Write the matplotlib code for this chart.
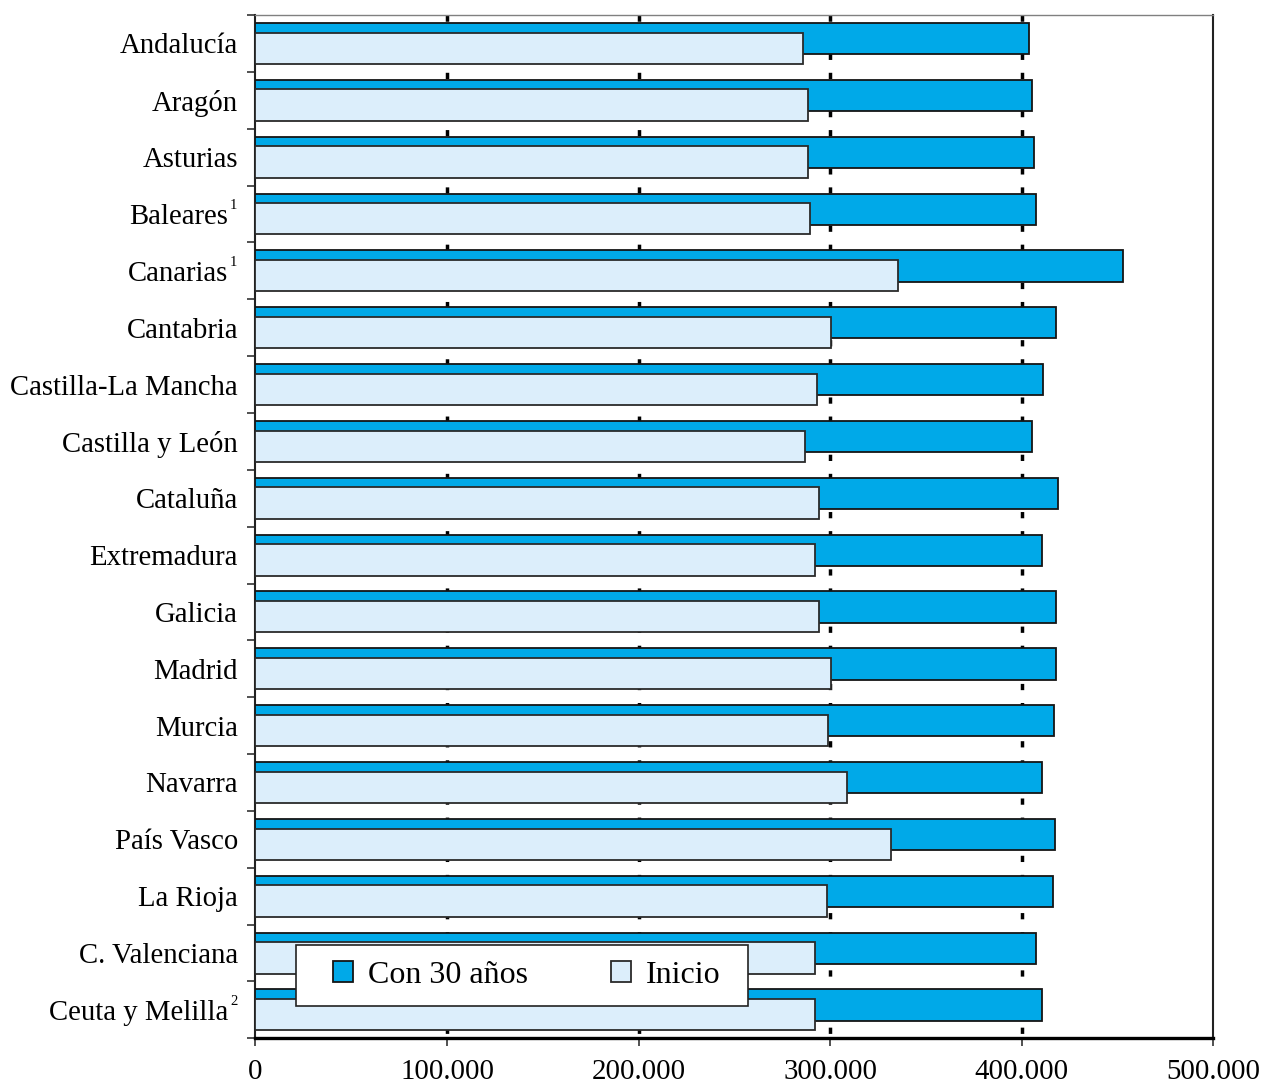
import numpy as np
import matplotlib
matplotlib.use("Agg")
import matplotlib.pyplot as plt
from matplotlib.patches import Rectangle
from matplotlib.ticker import FixedLocator, FuncFormatter

plt.rcParams['font.family'] = ['Liberation Serif', 'DejaVu Serif']

regions = ["Andalucía", "Aragón", "Asturias", "Baleares", "Canarias", "Cantabria",
           "Castilla-La Mancha", "Castilla y León", "Cataluña", "Extremadura",
           "Galicia", "Madrid", "Murcia", "Navarra", "País Vasco", "La Rioja",
           "C. Valenciana", "Ceuta y Melilla"]
notes = ["", "", "", "1", "1", "", "", "", "", "", "", "", "", "", "", "", "", "2"]

con_30_anios = [403800, 405500, 406600, 407300, 453000, 417900, 410900, 405400, 418800,
                410400, 417700, 418000, 416800, 410400, 417200, 416200, 407600, 410600]
inicio = [286000, 288400, 288400, 289600, 335200, 300300, 293000, 287000, 294000,
          292200, 294300, 300300, 298700, 308900, 331900, 298200, 291900, 292200]

x_ticks = [0, 100000, 200000, 300000, 400000, 500000]

fig = plt.figure(figsize=(12.61, 10.86), dpi=100)
ax = fig.add_axes([0.2026, 0.0439, 0.7596, 0.9423])

n = len(regions)
y = np.arange(n)
bar_h = 0.55
shift = 0.085

# dotted vertical gridlines behind the bars
ax.vlines(x_ticks[1:-1], -0.5, n - 0.5, colors='black', linewidth=2.5,
          linestyles=(0, (1.8, 3.7)), zorder=1)

ax.barh(y - shift, con_30_anios, height=bar_h, color='#00A9E8', edgecolor='#151515',
        linewidth=1.3, zorder=3, label='Con 30 años')
ax.barh(y + shift, inicio, height=bar_h, color='#DCEEFB', edgecolor='#2a2a2a',
        linewidth=1.3, zorder=4, label='Inicio')

ax.set_xlim(0, 500000)
ax.set_ylim(n - 0.5, -0.5)

# x axis
ax.xaxis.set_major_locator(FixedLocator(x_ticks))
ax.xaxis.set_major_formatter(FuncFormatter(lambda v, p: f"{int(v):,}".replace(",", ".")))
ax.tick_params(axis='x', which='major', direction='out', length=6, width=1.2,
               color='#333333', labelsize=20.8, pad=9)

# y axis: labels at category centres, ticks at category boundaries
ax.yaxis.set_major_locator(FixedLocator(y))
ax.set_yticklabels(regions)
ax.yaxis.set_minor_locator(FixedLocator(np.arange(n + 1) - 0.5))
ax.tick_params(axis='y', which='major', length=0, labelsize=20.7, pad=12.6)
ax.tick_params(axis='y', which='minor', direction='out', length=6, width=1.2,
               color='#333333')

base_pad = 12.6
for tick, note, yi in zip(ax.yaxis.get_major_ticks(), notes, y):
    if note:
        tick.set_pad(base_pad + 7.2)
        ax.annotate(note, xy=(0, yi), xycoords=('axes fraction', 'data'),
                    xytext=(-13, 10.5), textcoords='offset points',
                    ha='right', va='top', fontsize=10.5, annotation_clip=False)

# spines
ax.spines['top'].set_color('#808080')
ax.spines['top'].set_linewidth(1.0)
ax.spines['right'].set_color('#222222')
ax.spines['right'].set_linewidth(1.5)
ax.spines['left'].set_color('#222222')
ax.spines['left'].set_linewidth(1.5)
ax.spines['bottom'].set_color('black')
ax.spines['bottom'].set_linewidth(2.4)

# legend box and entries
ax.add_patch(Rectangle((0.0423, 0.0316), 0.472, 0.0596, transform=ax.transAxes,
                       facecolor='white', edgecolor='#222222', linewidth=1.2,
                       zorder=6, clip_on=False))
leg = ax.legend(loc='center left', bbox_to_anchor=(0.0809, 0.0614), ncol=2,
                frameon=False, fontsize=23, handlelength=0.63, handleheight=0.63,
                handletextpad=0.47, columnspacing=2.6, borderpad=0, borderaxespad=0)
leg.set_zorder(7)

fig.savefig("out.png", dpi=100)
